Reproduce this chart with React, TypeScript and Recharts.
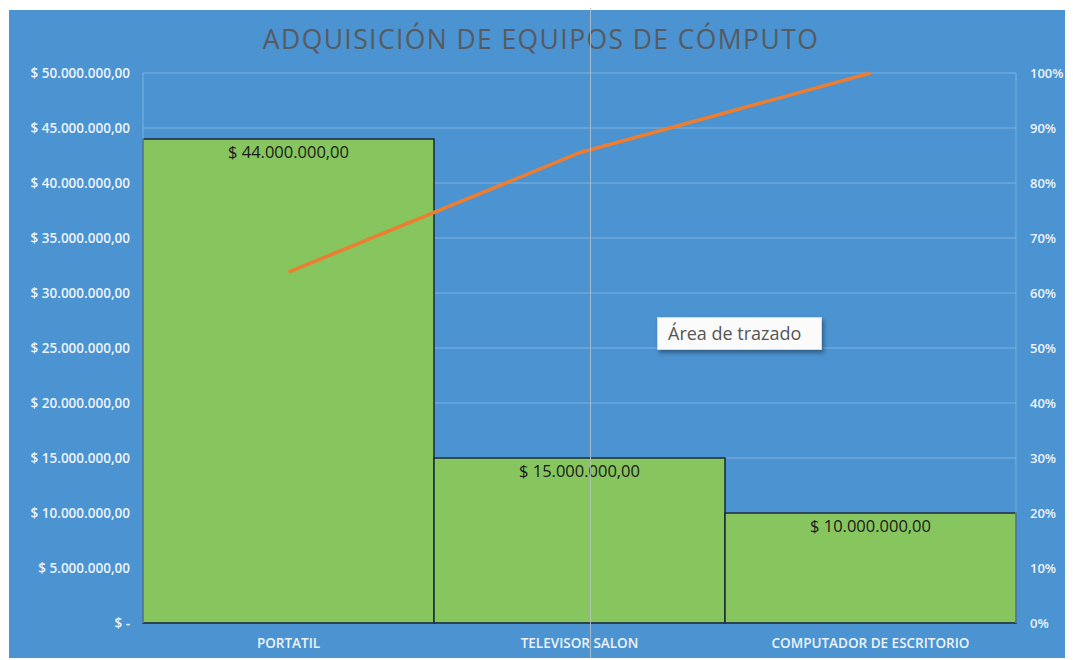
import { Bar, CartesianGrid, ComposedChart, LabelList, Line, XAxis, YAxis } from "recharts";

const categories = ["PORTATIL", "TELEVISOR SALON", "COMPUTADOR DE ESCRITORIO"];
const amounts = [44000000, 15000000, 10000000];
const cumulativePct = [0.638, 0.855, 1];
const moneyTicks = [0, 5000000, 10000000, 15000000, 20000000, 25000000, 30000000, 35000000, 40000000, 45000000, 50000000];
const pctTicks = [0, 0.1, 0.2, 0.3, 0.4, 0.5, 0.6, 0.7, 0.8, 0.9, 1];

const BG = "#4b93d1";
const GRID = "#7fb2e0";
const FONT = "'Open Sans', 'Noto Sans', sans-serif";

const formatMoney = (v: number) => {
  if (!v) return "$ -";
  const s = Math.round(v)
    .toString()
    .replace(/\B(?=(\d{3})+(?!\d))/g, ".");
  return `$ ${s},00`;
};

const formatPct = (v: number) => `${Math.round(v * 100)}%`;

export default function App() {
  const data = categories.map((name, i) => ({
    name,
    amount: amounts[i],
    amountLabel: formatMoney(amounts[i]),
    pct: cumulativePct[i],
  }));

  return (
    <div style={{ width: 1065, height: 652, background: "#fff", position: "relative" }}>
      <div
        style={{
          position: "absolute",
          left: 1,
          top: 2,
          width: 1064,
          height: 648,
          background: BG,
          fontFamily: FONT,
        }}
      >
        <div
          style={{
            position: "absolute",
            left: 0,
            top: 11,
            width: 1064,
            textAlign: "center",
            fontSize: 26.5,
            letterSpacing: 1.4,
            color: "#575b60",
          }}
        >
          ADQUISICIÓN DE EQUIPOS DE CÓMPUTO
        </div>
        <ComposedChart
          width={1064}
          height={648}
          data={data}
          margin={{ top: 63, right: 0, bottom: 0, left: 0 }}
          barCategoryGap={0}
          barGap={0}
        >
          <CartesianGrid vertical={false} stroke={GRID} strokeWidth={1} yAxisId="left" />
          <XAxis
            dataKey="name"
            height={35}
            tickLine={false}
            axisLine={{ stroke: "#233a5e" }}
            tickSize={0}
            tickMargin={15}
            tick={{ fill: "#eef3f9", fontSize: 13.5, fontWeight: 600, fontFamily: FONT }}
          />
          <YAxis
            yAxisId="left"
            width={134}
            domain={[0, 50000000]}
            ticks={moneyTicks}
            tickFormatter={formatMoney}
            tickLine={false}
            tickSize={0}
            tickMargin={13}
            axisLine={{ stroke: GRID }}
            tick={{ fill: "#eef3f9", fontSize: 13.5, fontWeight: 600, fontFamily: FONT }}
          />
          <YAxis
            yAxisId="right"
            orientation="right"
            width={57}
            domain={[0, 1]}
            ticks={pctTicks}
            tickFormatter={formatPct}
            tickLine={false}
            tickSize={0}
            tickMargin={14}
            axisLine={{ stroke: GRID }}
            tick={{ fill: "#eef3f9", fontSize: 13, fontWeight: 600, fontFamily: FONT, textAnchor: "start" }}
          />
          <Bar
            yAxisId="left"
            dataKey="amount"
            fill="#87c55f"
            stroke="#1c2a36"
            strokeWidth={1.5}
            isAnimationActive={false}
          >
            <LabelList
              dataKey="amountLabel"
              position="insideTop"
              offset={7}
              fill="#1a1a1a"
              fontSize={16.5}
              fontFamily={FONT}
            />
          </Bar>
          <Line
            yAxisId="right"
            dataKey="pct"
            stroke="#ed7d31"
            strokeWidth={3.5}
            dot={false}
            activeDot={false}
            isAnimationActive={false}
          />
        </ComposedChart>
        <div
          style={{
            position: "absolute",
            left: 581,
            top: -2,
            width: 1,
            height: 650,
            background: "rgba(185,190,196,0.85)",
          }}
        />
        <div
          style={{
            position: "absolute",
            left: 648,
            top: 307,
            width: 165,
            height: 33,
            boxSizing: "border-box",
            background: "#fbfbfb",
            border: "1px solid #d8d8d8",
            boxShadow: "2px 3px 4px rgba(0,0,0,0.35)",
            color: "#555",
            fontSize: 18,
            lineHeight: "31px",
            paddingLeft: 10,
          }}
        >
          Área de trazado
        </div>
      </div>
    </div>
  );
}
